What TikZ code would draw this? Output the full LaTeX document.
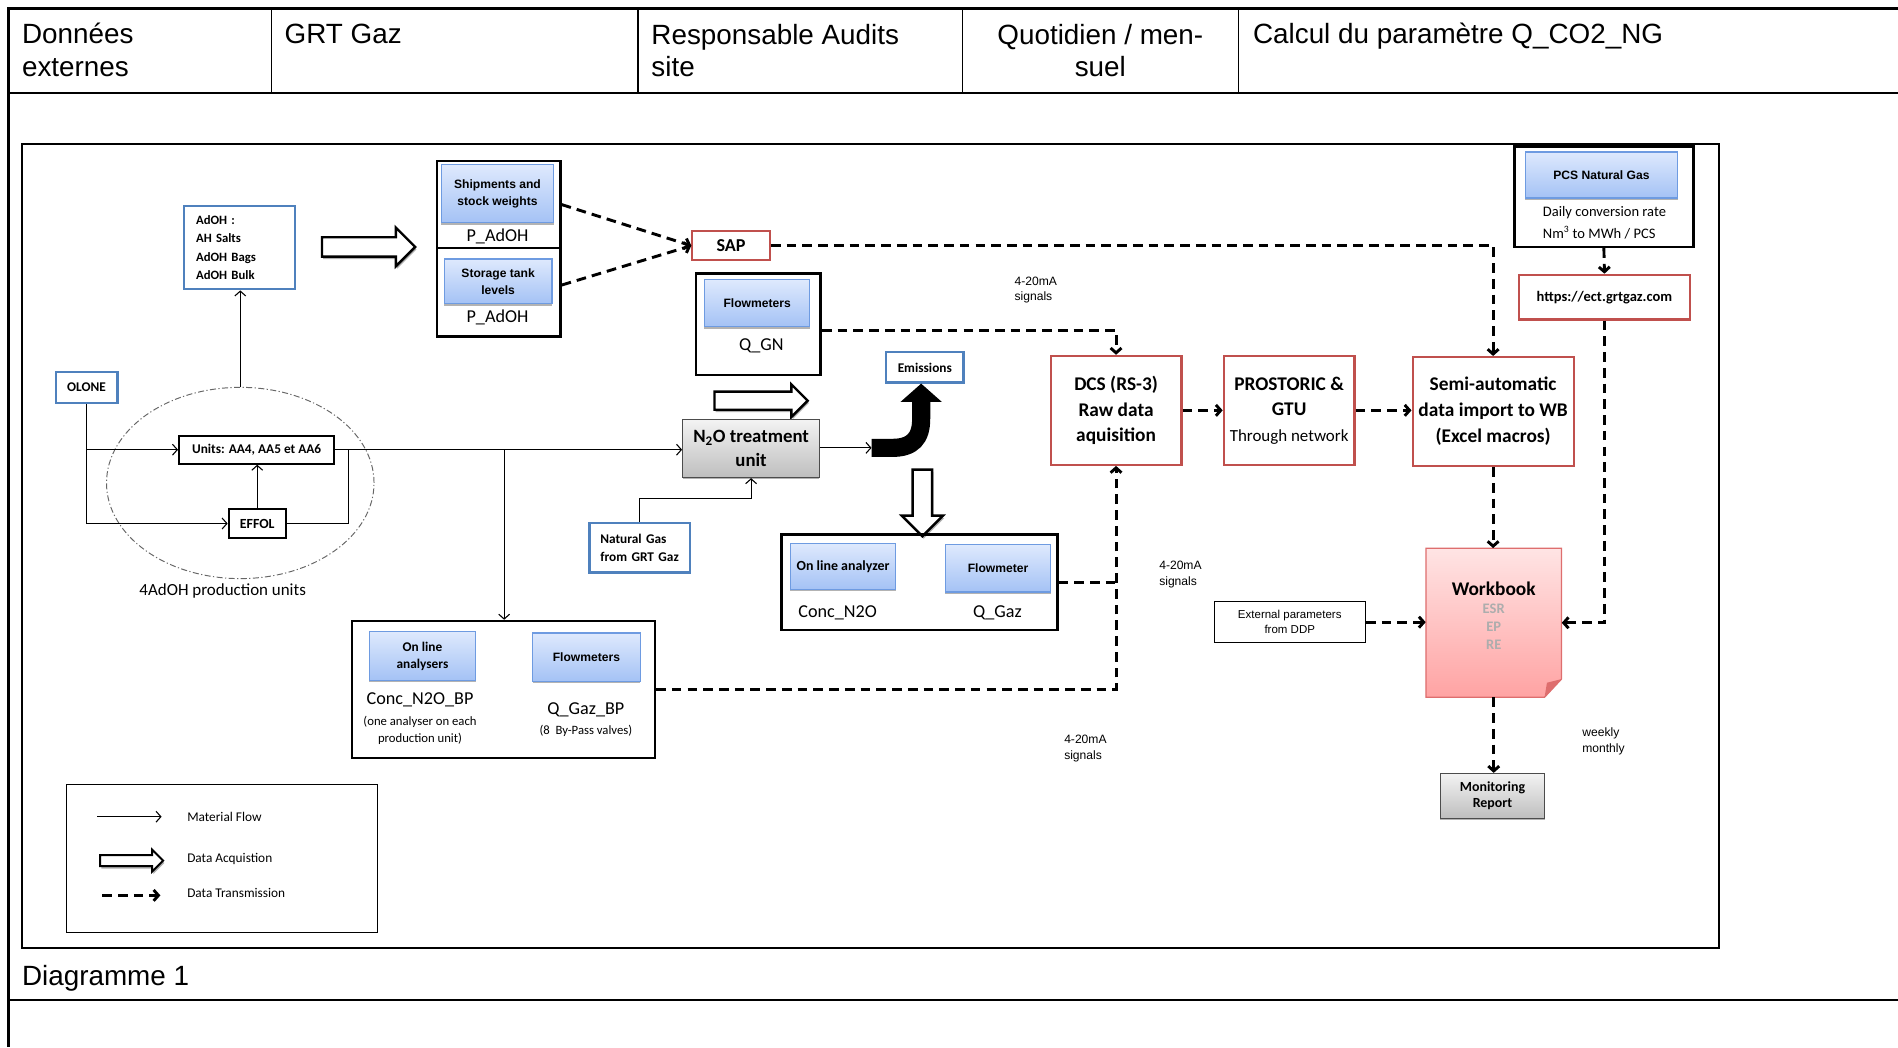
\documentclass[tikz,border=0pt]{standalone}
\usepackage{fontspec}
\setmainfont{Carlito}
\newfontfamily\arialfont{Liberation Sans}
\usetikzlibrary{arrows.meta,shapes.geometric,shapes.arrows,shadows}

\definecolor{boxblue}{RGB}{79,129,189}
\definecolor{boxred}{RGB}{192,80,77}
\definecolor{sensortop}{RGB}{222,233,253}
\definecolor{sensorbot}{RGB}{164,194,245}
\definecolor{sensorline}{RGB}{110,155,225}
\definecolor{wbtop}{RGB}{255,228,228}
\definecolor{wbbot}{RGB}{255,163,163}
\definecolor{wbline}{RGB}{222,110,110}
\definecolor{graytop}{RGB}{243,243,243}
\definecolor{graybot}{RGB}{190,190,190}

\begin{document}
\begin{tikzpicture}[x=1pt, y=-1pt,
    headtxt/.style={font=\arialfont\fontsize{23}{27}\selectfont, inner sep=0pt},
    grpbox/.style={draw, line width=2pt, inner sep=0pt},
    sensor/.style={draw=sensorline, line width=1pt, top color=sensortop, bottom color=sensorbot, inner sep=1pt, align=center, font=\arialfont\bfseries\fontsize{10}{14}\selectfont, drop shadow={shadow xshift=0pt, shadow yshift=-1.5pt, fill=black!50, opacity=0.6}},
    bluebox/.style={draw=boxblue, line width=1.8pt, fill=white, inner sep=0pt, font=\bfseries\fontsize{11}{13}\selectfont},
    redbox/.style={draw=boxred, line width=1.8pt, fill=white, inner sep=0pt, align=center},
    plainbox/.style={draw, line width=1.8pt, fill=white, inner sep=0pt, font=\bfseries\fontsize{11}{13}\selectfont},
    graybox/.style={draw=black!70, line width=1pt, top color=graytop, bottom color=graybot, inner sep=0pt, align=center, drop shadow={shadow xshift=0pt, shadow yshift=-1.5pt, fill=black!50, opacity=0.6}},
    valtext/.style={font=\fontsize{15}{18}\selectfont, inner sep=0pt},
    notetxt/.style={font=\fontsize{10.5}{13.5}\selectfont, inner sep=0pt, align=center},
    sigtxt/.style={font=\arialfont\fontsize{10}{13}\selectfont, inner sep=0pt, align=left, anchor=west},
    legtxt/.style={font=\fontsize{11}{13}\selectfont, inner sep=0pt, anchor=west},
    matflow/.style={line width=0.9pt, -{Straight Barb[length=4pt,width=9pt]}},
    matline/.style={line width=0.9pt},
    datatx/.style={line width=2.4pt, dash pattern=on 8pt off 5pt, -{Straight Barb[length=4pt,width=9pt]}},
    dataline/.style={line width=2.4pt, dash pattern=on 8pt off 5pt},
    dataacq/.style={single arrow, draw, line width=2pt, fill=white, inner xsep=0pt, inner ysep=7pt, single arrow head extend=8pt, drop shadow={shadow xshift=1pt, shadow yshift=-2pt, fill=black!45, opacity=0.7}}
]
\useasboundingbox (0,0) rectangle (1568,865);

% Header table
\draw[line width=2pt] (1568,7) -- (7,7) -- (7,865);
\draw[line width=2pt] (7,77) -- (1568,77);
\draw[line width=2pt] (7,826) -- (1568,826);
\foreach \cx in {224,527,795,1023}
    \draw[line width=1pt] (\cx,7) -- (\cx,77);
\node[headtxt, anchor=north west, align=left] (hdsrc) at (18,19) {Données\\externes};
\node[headtxt, anchor=base west] (hdgrt) at (235,36) {GRT Gaz};
\node[headtxt, anchor=north west, align=left] (hdresp) at (538,19.5) {Responsable Audits\\site};
\node[headtxt, anchor=north, align=center] (hdfreq) at (909,19.5) {Quotidien / men-\\suel};
\node[headtxt, anchor=base west] (hdcalc) at (1035,36) {Calcul du paramètre Q\_CO2\_NG};
\node[headtxt, anchor=base west] (caption) at (18,814) {Diagramme 1};

% Diagram frame
\draw[line width=1.5pt] (18,119) rectangle (1420,783);

% Production units
\node[draw=black!60, line width=0.8pt, dash pattern=on 5pt off 2pt on 1pt off 2pt, ellipse, minimum width=221pt, minimum height=158pt] (prodzone) at (198.5,399) {};
\node[valtext, font=\fontsize{14}{16}\selectfont] (prodlbl) at (184,488) {4AdOH production units};
\node[bluebox, minimum width=51pt, minimum height=26pt] (olone) at (71.5,320) {OLONE};
\node[plainbox, minimum width=128pt, minimum height=23pt] (units) at (212,371.5) {Units: AA4, AA5 et AA6};
\node[plainbox, minimum width=47pt, minimum height=24pt, font=\bfseries\fontsize{11.5}{13}\selectfont] (effol) at (212.5,432.5) {EFFOL};
\node[bluebox, minimum width=92pt, minimum height=69pt, text width=72pt, align=left, font=\bfseries\fontsize{10.5}{15.3}\selectfont] (adoh) at (198,204.5) {AdOH :\\AH Salts\\AdOH Bags\\AdOH Bulk};
\node[dataacq, minimum height=77pt] (acqadoh) at (300.5,204) {};

% Weighing data
\node[grpbox, minimum width=102pt, minimum height=72pt] (adohtop) at (412,169) {};
\node[grpbox, minimum width=102pt, minimum height=73pt] (adohbot) at (412,241.5) {};
\node[sensor, minimum width=93pt, minimum height=48pt] (ship) at (411,160) {Shipments and\\stock weights};
\node[valtext] (padoh1) at (411,195) {P\_AdOH};
\node[sensor, minimum width=89pt, minimum height=37pt] (tank) at (411.5,232.5) {Storage tank\\levels};
\node[valtext] (padoh2) at (411,262) {P\_AdOH};
\node[redbox, minimum width=64pt, minimum height=24pt, font=\bfseries\fontsize{15}{17}\selectfont] (sap) at (604,203) {SAP};

% Natural gas and treatment
\node[grpbox, minimum width=103pt, minimum height=84pt] (gngrp) at (626.5,268) {};
\node[sensor, minimum width=87pt, minimum height=39pt] (gnflow) at (625.5,250.5) {Flowmeters};
\node[valtext] (qgn) at (629,286) {Q\_GN};
\node[dataacq, minimum height=77pt, inner ysep=6.5pt, single arrow head extend=6pt] (acqn2o) at (625,331) {};
\node[graybox, minimum width=113pt, minimum height=48pt, font=\bfseries\fontsize{15.5}{20}\selectfont] (n2o) at (620.5,370.5) {N\textsubscript{2}O treatment\\unit};
\node[bluebox, minimum width=83pt, minimum height=41pt, text width=65pt, align=left, font=\bfseries\fontsize{11}{15}\selectfont] (ngas) at (528.5,452.5) {Natural Gas\\from GRT Gaz};
\node[bluebox, minimum width=64pt, minimum height=25pt] (emis) at (764,303.5) {Emissions};
\coordinate (bendstart) at (720,370);
\node[dataacq, minimum height=55pt, single arrow head extend=9pt, rotate=-90] (acqconc) at (762,411.5) {};

% Analysers
\node[grpbox, minimum width=228pt, minimum height=79pt] (concgrp) at (759.5,481) {};
\node[sensor, minimum width=87pt, minimum height=38pt, font=\bfseries\fontsize{11.5}{13}\selectfont] (concana) at (696.5,468) {On line analyzer};
\node[sensor, minimum width=87pt, minimum height=39pt] (concflow) at (824.5,469.5) {Flowmeter};
\node[valtext] (concval) at (692,506) {Conc\_N2O};
\node[valtext] (qgazval) at (824,506) {Q\_Gaz};
\node[grpbox, minimum width=250pt, minimum height=113pt] (bpgrp) at (416,569.5) {};
\node[sensor, minimum width=88pt, minimum height=40pt, font=\bfseries\fontsize{11}{14}\selectfont] (bpana) at (349,542) {On line\\analysers};
\node[sensor, minimum width=89pt, minimum height=40pt] (bpflow) at (484.5,543) {Flowmeters};
\node[valtext] (bpconc) at (347,578) {Conc\_N2O\_BP};
\node[notetxt] (bpnote1) at (347,603.5) {(one analyser on each\\production unit)};
\node[valtext] (bpqgaz) at (484,586) {Q\_Gaz\_BP};
\node[notetxt] (bpnote2) at (484,604) {(8~ By-Pass valves)};

% Data processing
\node[redbox, minimum width=108pt, minimum height=90pt, font=\bfseries\fontsize{16}{21}\selectfont] (dcs) at (922,339) {DCS (RS-3)\\Raw data\\aquisition};
\node[redbox, minimum width=108pt, minimum height=90pt, font=\bfseries\fontsize{16}{21}\selectfont] (prost) at (1065,339) {PROSTORIC \&\\GTU\\{\mdseries\fontsize{14}{21}\selectfont Through network}};
\node[redbox, minimum width=133pt, minimum height=90pt, font=\bfseries\fontsize{16}{21.5}\selectfont] (semi) at (1233.5,340) {Semi-automatic\\data import to WB\\(Excel macros)};
\node[grpbox, minimum width=148pt, minimum height=83pt] (pcsgrp) at (1325,162.5) {};
\node[sensor, minimum width=126pt, minimum height=38pt] (pcs) at (1323,144.5) {PCS Natural Gas};
\node[inner sep=0pt, align=left, font=\fontsize{12}{17.5}\selectfont] (pcstxt) at (1325.5,184) {Daily conversion rate\\Nm\textsuperscript{3} to MWh / PCS};
\node[redbox, minimum width=141pt, minimum height=37pt, font=\bfseries\fontsize{12}{14}\selectfont] (https) at (1325.5,245.5) {https://ect.grtgaz.com};
\shadedraw[top color=wbtop, bottom color=wbbot, draw=wbline, line width=1pt] (1178,453) -- (1290,453) -- (1290,561) -- (1276,576) -- (1178,576) -- cycle;
\fill[wbline] (1290,561) -- (1278,564) -- (1276,576) -- cycle;
\node[minimum width=112pt, minimum height=123pt, inner sep=0pt] (wbook) at (1234,514.5) {};
\node[inner sep=0pt, font=\bfseries\fontsize{16}{18}\selectfont] (wbtitle) at (1234,486.5) {Workbook};
\node[inner sep=0pt, align=center, text=black!32, font=\bfseries\fontsize{12}{15}\selectfont] (wbsub) at (1234,517.5) {ESR\\EP\\RE};
\node[draw, line width=1pt, minimum width=125pt, minimum height=34pt, inner sep=0pt, align=center, font=\arialfont\fontsize{9.5}{12.5}\selectfont] (extpar) at (1065.5,514) {External parameters\\from DDP};
\node[graybox, minimum width=86pt, minimum height=37pt, font=\bfseries\fontsize{11.5}{13}\selectfont] (report) at (1233,657.5) {Monitoring\\Report};
\node[sigtxt] (sig1) at (838,239.5) {4-20mA\\signals};
\node[sigtxt] (sig2) at (957.5,474.5) {4-20mA\\signals};
\node[sigtxt] (sig3) at (879,618.5) {4-20mA\\signals};
\node[sigtxt] (period) at (1307,612.5) {weekly\\monthly};

% Material flow
\coordinate (merge) at (288,371.5);
\coordinate (split) at (416.5,371.5);
\draw[matflow] (olone.south) |- (units.west);
\draw[matflow] (olone.south) |- (effol.west);
\draw[matflow] (effol.north) -- (effol.north |- units.south);
\draw[matline] (effol.east) -| (merge);
\draw[matflow] (units.east) -- (units.east -| n2o.west);
\draw[matflow] (split) -- (split |- bpgrp.north);
\draw[matflow] (prodzone.north) -- (prodzone.north |- adoh.south);
\draw[matflow] (ngas.north) -- ++(0,-19) -| (n2o.south);
\draw[matflow] (n2o.east |- bendstart) -- (bendstart);
\draw[line width=15pt, -{Triangle[length=15pt,width=33pt]}] (bendstart) -- (737,370) .. controls (754,370) and (761,362) .. (761,346) -- (emis.south -| 761,0);

% Data transmission
\draw[datatx] (adohtop.east) -- (sap.west);
\draw[datatx] ([yshift=6pt]adohbot.east) -- (sap.west);
\draw[datatx] (sap.east) -| (semi.north);
\draw[datatx] ([yshift=-5pt]gngrp.east) -| (dcs.north);
\draw[datatx] (bpgrp.east) -| (dcs.south);
\draw[dataline] (concgrp.east) -- (concgrp.east -| dcs.south);
\draw[datatx] (dcs.east) -- (prost.west);
\draw[datatx] (prost.east) -- (prost.east -| semi.west);
\draw[datatx] (pcsgrp.south) -- (https.north);
\draw[datatx] (https.south) |- (wbook.east);
\draw[datatx] (semi.south) -- (semi.south |- wbook.north);
\draw[datatx] (extpar.east) -- (extpar.east -| wbook.west);
\draw[datatx] (wbook.south) -- (wbook.south |- report.north);

% Legend
\node[draw, line width=0.8pt, minimum width=257pt, minimum height=122pt, inner sep=0pt] (legend) at (183.5,709) {};
\node[legtxt] (lgmat) at (154.5,674.7) {Material Flow};
\node[legtxt] (lgacq) at (154.5,709.7) {Data Acquistion};
\node[legtxt] (lgtx) at (154.5,737.7) {Data Transmission};
\draw[matflow] ([xshift=-74pt]lgmat.west) -- ([xshift=-21pt]lgmat.west);
\node[dataacq, minimum height=52pt, inner ysep=3.75pt, single arrow head extend=4.5pt, line width=1.6pt] (lgacqarr) at (106.5,711) {};
\draw[datatx] ([xshift=-70pt,yshift=-2pt]lgtx.west) -- ([xshift=-22pt,yshift=-2pt]lgtx.west);
\end{tikzpicture}
\end{document}
